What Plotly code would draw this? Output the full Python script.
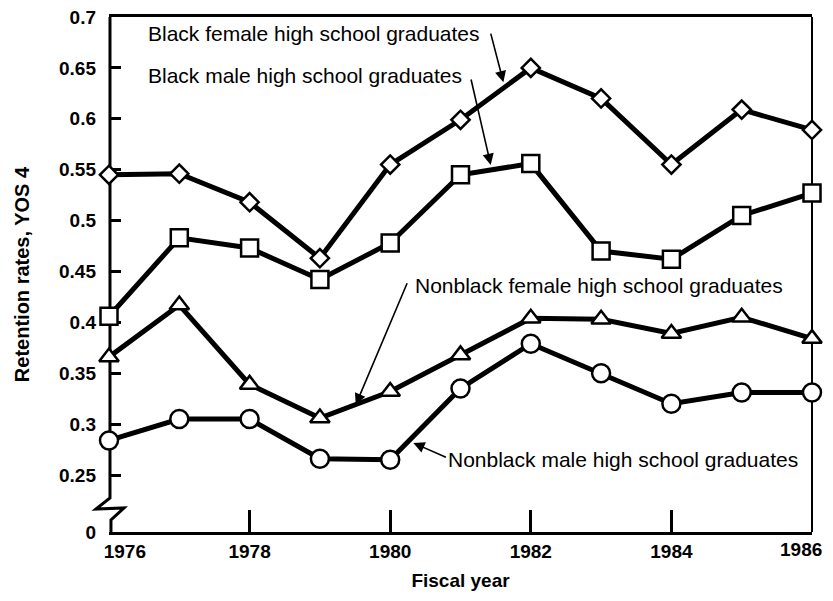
import plotly.graph_objects as go

# ---- data (retention rates, YOS 4)
years = [1976, 1977, 1978, 1979, 1980, 1981, 1982, 1983, 1984, 1985, 1986]

black_female = [0.545, 0.546, 0.518, 0.463, 0.555, 0.599, 0.650, 0.620, 0.555, 0.609, 0.589]
black_male = [0.406, 0.483, 0.473, 0.442, 0.478, 0.545, 0.556, 0.470, 0.462, 0.505, 0.527]
nonblack_female = [0.366, 0.417, 0.339, 0.306, 0.332, 0.368, 0.404, 0.403, 0.389, 0.405, 0.384]
nonblack_male = [0.284, 0.305, 0.305, 0.266, 0.265, 0.335, 0.379, 0.350, 0.320, 0.331, 0.331]

x_ticks = [1976, 1978, 1980, 1982, 1984, 1986]
x_ticktext = ["1976", "1978", "1980", "1982", "1984", "1986"]

y_bottom = 0.194   # broken axis: the bottom of the axis is labelled 0
y_ticks = [y_bottom, 0.25, 0.3, 0.35, 0.4, 0.45, 0.5, 0.55, 0.6, 0.65, 0.7]
y_ticktext = ["0", "0.25", "0.3", "0.35", "0.4", "0.45", "0.5", "0.55", "0.6", "0.65", "0.7"]

FONT = "Liberation Sans, Arial, sans-serif"
NB = "\u00a0"

fig = go.Figure()


def add_series(y, symbol, size):
    fig.add_trace(go.Scatter(
        x=years, y=y, mode="lines+markers", cliponaxis=False,
        line=dict(color="black", width=5),
        marker=dict(symbol=symbol, size=size, color="white",
                    line=dict(color="black", width=2.5)),
        showlegend=False,
    ))


add_series(black_female, "diamond", 14)
add_series(black_male, "square", 17)
add_series(nonblack_female, "triangle-up", 17)
add_series(nonblack_male, "circle", 18)

# plot area in window pixels; the page body adds an 8px margin
W, H, OFF = 833, 601, 8
L, R, T, B = 109, 812, 17, 532


def px(x, y):
    return (x - L) / (R - L), (B - y) / (B - T)


# left axis with the break zigzag
pts = [(110, 17), (110, 498), (96, 509), (124, 508), (111, 520), (111, 532)]
path = "M " + " L ".join("{:.4f},{:.4f}".format(*px(a, b)) for a, b in pts)
fig.add_shape(type="path", path=path, xref="paper", yref="paper",
              line=dict(color="black", width=3), layer="below")
# right border
fig.add_shape(type="line", xref="paper", yref="paper", x0=1, x1=1, y0=0, y1=1,
              line=dict(color="black", width=2), layer="below")

# labels
labels = [
    ("Black female high school graduates", 1976.52, 0.684),
    ("Black male high school graduates", 1976.52, 0.643),
    ("Nonblack female high school graduates", 1980.33, 0.436),
    ("Nonblack male high school graduates", 1980.80, 0.265),
]
for txt, lx, ly in labels:
    fig.add_annotation(x=lx, y=ly, text=txt, showarrow=False, xanchor="left",
                       yanchor="middle", font=dict(size=21, color="black", family=FONT))

# arrows: tip (x, y) and tail offset in pixels
arrows = [
    (1981.61, 0.636, -13, -50),
    (1981.43, 0.5546, -20, -87),
    (1979.51, 0.319, 52, -123),
    (1980.33, 0.2815, 34, 15),
]
for ax_x, ax_y, dx, dy in arrows:
    fig.add_annotation(x=ax_x, y=ax_y, ax=dx, ay=dy, text="", showarrow=True,
                       arrowhead=2, arrowsize=1.4, arrowwidth=1.6, arrowcolor="black",
                       standoff=0)

# end labels sit inside the tick like the original
xt = ["<b>%s</b>" % t for t in x_ticktext]
xt[0] = NB * 6 + xt[0]
xt[-1] = ""
fig.add_annotation(x=x_ticks[-1], y=0, xref="x", yref="paper", text=f"<b>{x_ticktext[-1]}</b>",
                   showarrow=False, xanchor="right", yanchor="top", xshift=12, yshift=-5,
                   font=dict(size=19, color="black", family=FONT))

fig.update_layout(
    width=W - 2 * OFF, height=H - 2 * OFF,
    margin=dict(l=L - OFF, r=(W - OFF) - R, t=T - OFF, b=(H - OFF) - B),
    paper_bgcolor="white", plot_bgcolor="white",
    font=dict(family=FONT, color="black", size=19),
)
fig.update_xaxes(
    range=[1976, 1986], tickvals=x_ticks, ticktext=xt,
    ticks="inside", ticklen=22, tickwidth=2.5, tickcolor="black",
    showline=True, linewidth=3, linecolor="black", mirror=True,
    showgrid=False, zeroline=False, layer="below traces", automargin=False,
    ticklabelstandoff=0, ticklabeloverflow="allow", tickfont=dict(size=19),
    title=dict(text="<b>Fiscal year</b>", font=dict(size=19), standoff=13),
)
fig.update_yaxes(
    range=[y_bottom, 0.7], tickvals=y_ticks, ticktext=["<b>%s</b>" % t for t in y_ticktext],
    ticks="inside", ticklen=12, tickwidth=3, tickcolor="black",
    showline=False, showgrid=False, zeroline=False, layer="below traces", automargin=False,
    ticklabelstandoff=12, ticklabeloverflow="allow", tickfont=dict(size=19),
    title=dict(text="<b>Retention rates, YOS 4</b>", font=dict(size=20), standoff=24),
)

fig.write_html("out.html")
